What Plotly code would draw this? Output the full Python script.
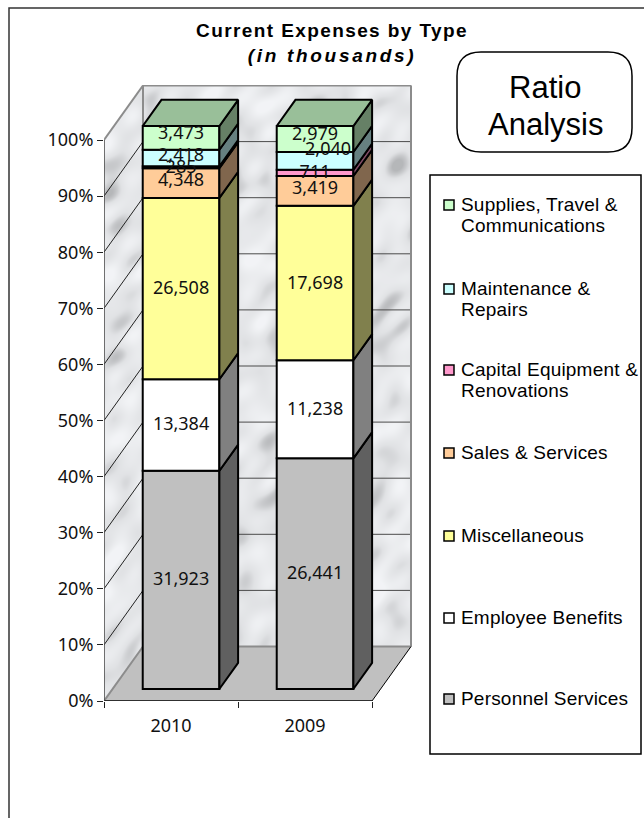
import base64, struct, zlib
import numpy as np
import plotly.graph_objects as go

categories = ["2010", "2009"]
series_names = ["Personnel Services", "Employee Benefits", "Miscellaneous", "Sales & Services",
                "Capital Equipment & Renovations", "Maintenance & Repairs",
                "Supplies, Travel & Communications"]
personnel = [31923, 26441]
benefits = [13384, 11238]
misc = [26508, 17698]
sales = [4348, 3419]
capital = [285, 711]
maintenance = [2418, 2040]
supplies = [3473, 2979]
series_values = [personnel, benefits, misc, sales, capital, maintenance, supplies]
y_ticks = list(range(0, 101, 10))

front = ["#C0C0C0", "#FFFFFF", "#FFFF99", "#FFCC99", "#FF99CC", "#CCFFFF", "#CCFFCC"]
side = ["#606060", "#808080", "#80804D", "#80664D", "#804D66", "#668080", "#668066"]
top_face = "#99BF99"

# pixel frame of the plot area
W, H = 644, 818
L, R, T, B = 104, 412, 85, 701
PX_PER_CAT, PX_PER_PCT = 134.0, 5.61
x_max = (R - L) / PX_PER_CAT
y_max = (B - T) / PX_PER_PCT
DX, DY = 39 / PX_PER_CAT, 54.5 / PX_PER_PCT   # projection of full depth
BAR_W, D0, D1, BAR_SCALE = 0.572, 0.22, 0.70, 1.0036

def px(x): return (x - L) / (R - L)
def py(y): return (B - y) / (B - T)

def marble(w, h):
    yy, xx = np.mgrid[0:h, 0:w].astype(float)
    u = (xx + yy * 0.8) / 1.0
    v = (yy - xx * 0.8) / 1.7     # soft streaks along one diagonal
    n = np.zeros_like(u)
    golden = 2.399963
    for j in range(30):
        ang = j * golden
        wave = 15.0 + 110.0 / (1 + 0.3 * j)
        amp = wave ** 0.5
        n += amp * np.sin((u * np.cos(ang) + v * np.sin(ang)) * 2 * np.pi / wave + j * 1.37)
    n = (n - n.mean()) / n.std()
    g = 231 + 6 * np.clip(n, -2, 2) - 13 * np.clip(-n - 0.8, 0, 2.2) ** 1.3
    g = np.clip(g, 170, 246)
    rgb = np.stack([g - 1, g + 0.5, g + 3], axis=2).clip(0, 255).astype(np.uint8)
    raw = b"".join(b"\x00" + rgb[i].tobytes() for i in range(h))
    def chunk(t, d):
        return struct.pack(">I", len(d)) + t + d + struct.pack(">I", zlib.crc32(t + d) & 0xffffffff)
    png = (b"\x89PNG\r\n\x1a\n" + chunk(b"IHDR", struct.pack(">IIBBBBB", w, h, 8, 2, 0, 0, 0))
           + chunk(b"IDAT", zlib.compress(raw, 9)) + chunk(b"IEND", b""))
    return "data:image/png;base64," + base64.b64encode(png).decode()

def poly(pts):
    return "M " + " L ".join(f"{x:.4f} {y:.4f}" for x, y in pts) + " Z"

shapes = []
def data_shape(pts, fill=None, line=None, width=1):
    shapes.append(dict(type="path", path=poly(pts), xref="x", yref="y", layer="below",
                       fillcolor=fill or "rgba(0,0,0,0)", line=dict(color=line or "rgba(0,0,0,0)", width=width)))
def data_line(x0, y0, x1, y1, color, width=1):
    shapes.append(dict(type="line", x0=x0, y0=y0, x1=x1, y1=y1, xref="x", yref="y", layer="below",
                       line=dict(color=color, width=width)))

# masks outside the walls
data_shape([(0, 100), (0, y_max), (DX, y_max)], fill="white")
data_shape([(2, 0), (x_max, 0), (x_max, DY)], fill="white")
# gridlines on walls
for t in y_ticks[1:-1]:
    data_line(0, t, DX, t + DY, "#222222")
    data_line(DX, t + DY, 2 + DX, t + DY, "#4A4A4A")
# floor
data_shape([(0, 0), (2, 0), (2 + DX, DY), (DX, DY)], fill="#C0C0C0")
# wall edges
for a, b in [((0, 100), (DX, 100 + DY)), ((DX, 100 + DY), (2 + DX, 100 + DY)),
             ((2 + DX, 100 + DY), (2 + DX, DY)), ((DX, 100 + DY), (DX, DY)),
             ((DX, DY), (2 + DX, DY)), ((0, 0), (DX, DY))]:
    data_line(a[0], a[1], b[0], b[1], "#8C8C8C", 2)
data_line(2, 0, 2 + DX, DY, "#000000")
data_line(0, 0, 2, 0, "#000000", 1.5)
data_line(0, 0, 0, 100, "#444444", 1.5)

fig = go.Figure()
centers = [i + 0.5 for i in range(len(categories))]
totals = [sum(s[i] for s in series_values) for i in range(len(categories))]
bar_x = [c + D0 * DX + 0.011 for c in centers]
offset = D0 * DY
cum = [0.0 for _ in categories]
edge = "#000000"
label_x, label_y, label_text = [], [], []
nudge = {(1, 5): (13, -10), (0, 6): (0, -3), (0, 3): (0, -2), (1, 3): (0, -1), (1, 6): (0, -3), (0, 5): (0, -2)}
for k, vals in enumerate(series_values):
    pct = [BAR_SCALE * 100 * v / t for v, t in zip(vals, totals)]
    base = [c + offset for c in cum]
    fig.add_trace(go.Bar(x=bar_x, y=pct, base=base, width=BAR_W, name=series_names[k],
                         marker=dict(color=front[k], line=dict(color=edge, width=2)),
                         showlegend=False, hoverinfo="skip"))
    for i in range(len(categories)):
        xr = bar_x[i] + BAR_W / 2
        y0, y1 = base[i], base[i] + pct[i]
        d = (D1 - D0)
        fig.add_trace(go.Scatter(
            x=[xr, xr + d * DX, xr + d * DX, xr, xr], y=[y0, y0 + d * DY, y1 + d * DY, y1, y0],
            mode="lines", fill="toself", fillcolor=side[k], line=dict(color=edge, width=2),
            showlegend=False, hoverinfo="skip"))
        if k == len(series_values) - 1:
            xl = bar_x[i] - BAR_W / 2
            fig.add_trace(go.Scatter(
                x=[xl, xr, xr + d * DX, xl + d * DX, xl], y=[y1, y1, y1 + d * DY, y1 + d * DY, y1],
                mode="lines", fill="toself", fillcolor=top_face, line=dict(color=edge, width=2),
                showlegend=False, hoverinfo="skip"))
        nx, ny = nudge.get((i, k), (0, 1))
        label_x.append(bar_x[i] + nx / PX_PER_CAT)
        label_y.append(y0 + pct[i] / 2 - ny / PX_PER_PCT)
        label_text.append(f"{vals[i]:,}")
    cum = [c + p for c, p in zip(cum, pct)]

fig.add_trace(go.Scatter(x=label_x, y=label_y, text=label_text, mode="text", textposition="middle center",
                         textfont=dict(family="Noto Sans", size=18, color="#111111"),
                         showlegend=False, hoverinfo="skip"))

# outer frame
shapes.append(dict(type="path", path=f"M {px(9)} {py(830)} L {px(9)} {py(8)} L {px(660)} {py(8)}",
                   xref="paper", yref="paper", line=dict(color="#333333", width=1.5), layer="above"))
# ratio box (rounded)
bx0, bx1, by0, by1, r = 457, 632, 52, 152, 24
shapes.append(dict(type="path", xref="paper", yref="paper", fillcolor="white", line=dict(color="#000000", width=1.5),
    path=(f"M {px(bx0+r)} {py(by0)} L {px(bx1-r)} {py(by0)} Q {px(bx1)} {py(by0)} {px(bx1)} {py(by0+r)} "
          f"L {px(bx1)} {py(by1-r)} Q {px(bx1)} {py(by1)} {px(bx1-r)} {py(by1)} L {px(bx0+r)} {py(by1)} "
          f"Q {px(bx0)} {py(by1)} {px(bx0)} {py(by1-r)} L {px(bx0)} {py(by0+r)} Q {px(bx0)} {py(by0)} {px(bx0+r)} {py(by0)} Z")))
# legend box
shapes.append(dict(type="rect", xref="paper", yref="paper", x0=px(430), x1=px(641), y0=py(754), y1=py(175),
                   fillcolor="white", line=dict(color="#000000", width=1.5)))

legend_lines = [["Personnel Services"], ["Employee Benefits"], ["Miscellaneous"], ["Sales & Services"],
                ["Capital Equipment &", "Renovations"], ["Maintenance &", "Repairs"],
                ["Supplies, Travel &", "Communications"]]
marker_y = [699, 618, 536, 453, 370, 289, 205]
annotations = []
for k, (lines, my) in enumerate(zip(legend_lines, marker_y)):
    for j, txt in enumerate(lines):
        annotations.append(dict(text=txt, xref="paper", yref="paper", x=px(459), y=py(my - 1 + 21 * j), xanchor="left",
                                yanchor="middle", align="left", showarrow=False,
                                font=dict(family="Liberation Sans", size=19, color="#000000")))
    shapes.append(dict(type="rect", xref="paper", yref="paper", x0=px(444), x1=px(454), y0=py(my + 5), y1=py(my - 5),
                       fillcolor=front[k], line=dict(color="#000000", width=1.5)))
for txt, y in [("Ratio", 87), ("Analysis", 124)]:
    annotations.append(dict(text=txt, xref="paper", yref="paper", x=px(545), y=py(y), xanchor="center",
                            yanchor="middle", align="center", showarrow=False,
                            font=dict(family="Liberation Sans", size=31, color="#000000")))

fig.update_layout(
    width=W, height=H, margin=dict(l=L, r=W - R, t=T, b=H - B), autosize=False,
    paper_bgcolor="white", plot_bgcolor="rgba(0,0,0,0)", barmode="overlay", showlegend=False,
    title=dict(text="<b>Current Expenses by Type</b><br><b><i>(in thousands)</i></b>", x=332 / W, xanchor="center",
               y=1 - 37 / H, yanchor="middle", font=dict(family="Liberation Sans", size=19, color="#000000")),
    xaxis=dict(range=[0, x_max], tickvals=centers, ticktext=categories, ticks="", showgrid=False, zeroline=False,
               showline=False, tickfont=dict(family="Noto Sans", size=18, color="#111111"), ticklabelstandoff=12,
               minor=dict(tick0=0, dtick=1, ticks="outside", ticklen=6, tickcolor="#222222", tickwidth=1)),
    yaxis=dict(range=[0, y_max], tickvals=y_ticks, ticktext=[f"{t}%" for t in y_ticks], ticks="outside", ticklen=6,
               tickcolor="#222222", showgrid=False, zeroline=False, showline=False,
               tickfont=dict(family="Noto Sans", size=18, color="#111111")),
    images=[dict(source=marble(R - L, B - T), xref="paper", yref="paper", x=0, y=1, sizex=1, sizey=1,
                 sizing="stretch", xanchor="left", yanchor="top", layer="below")],
    shapes=shapes, annotations=annotations,
)
post = """
document.body.style.margin='0';document.body.style.overflow='hidden';
document.querySelectorAll('.annotation-text').forEach(function(t){
  if(t.getAttribute('style').indexOf('19px')>=0){t.style.letterSpacing='0.2px';}});
var lines=document.querySelectorAll('.gtitle tspan.line');
if(lines.length>=2){lines[0].style.letterSpacing='1.4px';lines[1].style.letterSpacing='2.7px';}
"""
fig.write_html("out.html", post_script=post, config={"displayModeBar": False})
